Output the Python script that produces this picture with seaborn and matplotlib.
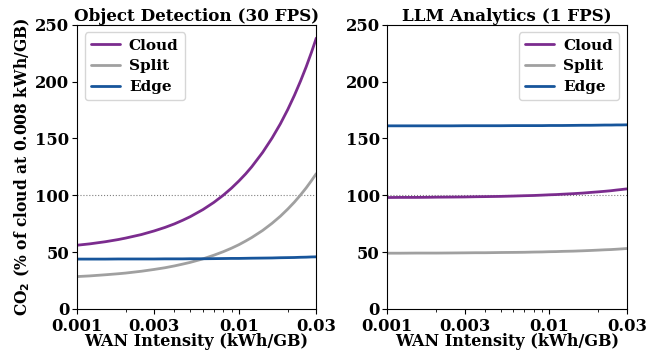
import numpy as np
import pandas as pd
import matplotlib
matplotlib.use("Agg")
import matplotlib.pyplot as plt
import seaborn as sns

# WAN intensity sample points (kWh/GB)
wan = [0.001, 0.0012, 0.0015, 0.0018, 0.002, 0.0025, 0.003, 0.0035, 0.004,
       0.0045, 0.005, 0.006, 0.007, 0.008, 0.009, 0.01, 0.011, 0.012,
       0.014, 0.016, 0.018, 0.02, 0.022, 0.024, 0.026, 0.028, 0.03]

# Object Detection (30 FPS), % of cloud CO2 at 0.008 kWh/GB
od_cloud = [56.0, 57.2, 59.1, 61.0, 62.3, 65.4, 68.6, 71.7, 74.8,
            78.0, 81.1, 87.4, 93.7, 100.0, 106.3, 112.6, 118.8, 125.1,
            137.7, 150.3, 162.8, 175.4, 188.0, 200.6, 213.1, 225.7, 238.3]
od_split = [28.4, 29.0, 30.0, 30.9, 31.5, 33.1, 34.7, 36.2, 37.8,
            39.4, 40.9, 44.0, 47.2, 50.3, 53.4, 56.5, 59.7, 62.8,
            69.0, 75.3, 81.5, 87.8, 94.0, 100.3, 106.5, 112.8, 119.0]
od_edge = [43.8, 43.8, 43.8, 43.9, 43.9, 43.9, 43.9, 44.0, 44.0,
           44.0, 44.1, 44.1, 44.2, 44.3, 44.4, 44.4, 44.5, 44.6,
           44.7, 44.8, 45.0, 45.1, 45.2, 45.4, 45.5, 45.7, 45.8]

# LLM Analytics (1 FPS)
llm_cloud = [98.0, 98.1, 98.1, 98.2, 98.3, 98.4, 98.5, 98.7, 98.8,
             98.9, 99.0, 99.3, 99.6, 99.8, 100.1, 100.4, 100.6, 100.9,
             101.4, 101.9, 102.5, 103.0, 103.5, 104.0, 104.6, 105.1, 105.6]
llm_split = [49.0, 49.0, 49.1, 49.1, 49.1, 49.2, 49.3, 49.4, 49.4,
             49.5, 49.6, 49.7, 49.8, 50.0, 50.1, 50.3, 50.4, 50.6,
             50.8, 51.1, 51.4, 51.7, 52.0, 52.2, 52.5, 52.8, 53.1]
llm_edge = [161.1, 161.1, 161.1, 161.1, 161.1, 161.1, 161.2, 161.2, 161.2,
            161.2, 161.2, 161.3, 161.3, 161.3, 161.3, 161.4, 161.4, 161.4,
            161.5, 161.6, 161.6, 161.7, 161.8, 161.8, 161.9, 161.9, 162.0]

configs = ["Cloud", "Split", "Edge"]
palette = {"Cloud": "#7b2c8e", "Split": "#a0a0a0", "Edge": "#17559b"}
xticks = [0.001, 0.003, 0.01, 0.03]
xticklabels = ["0.001", "0.003", "0.01", "0.03"]


def to_long(cloud, split, edge):
    frames = []
    for name, vals in zip(configs, [cloud, split, edge]):
        frames.append(pd.DataFrame({"wan": wan, "co2": vals, "config": name}))
    return pd.concat(frames, ignore_index=True)


sns.set_style("ticks")
plt.rcParams["font.family"] = ["DejaVu Serif"]
plt.rcParams["font.weight"] = "bold"
plt.rcParams["axes.labelweight"] = "bold"
plt.rcParams["axes.titleweight"] = "bold"
plt.rcParams["mathtext.default"] = "bf"
for key in ["text.color", "axes.labelcolor", "xtick.color", "ytick.color", "axes.edgecolor"]:
    plt.rcParams[key] = "black"
plt.rcParams["xtick.minor.size"] = 2
plt.rcParams["xtick.minor.width"] = 0.6
plt.rcParams["xtick.major.size"] = 3.5
plt.rcParams["ytick.major.size"] = 3.5

fig, axes = plt.subplots(1, 2, figsize=(6.57, 3.55), dpi=100)
fig.subplots_adjust(left=0.117, right=0.954, top=0.930, bottom=0.130, wspace=0.297)

panels = [
    ("Object Detection (30 FPS)", to_long(od_cloud, od_split, od_edge), "upper left"),
    ("LLM Analytics (1 FPS)", to_long(llm_cloud, llm_split, llm_edge), "upper right"),
]

for ax, (title, df, loc) in zip(axes, panels):
    sns.lineplot(data=df, x="wan", y="co2", hue="config", hue_order=configs,
                 palette=palette, linewidth=2, ax=ax)
    ax.axhline(100, color="gray", linestyle=":", linewidth=0.8, zorder=0)
    ax.set_xscale("log")
    ax.set_xlim(0.001, 0.03)
    ax.set_ylim(0, 250)
    ax.set_xticks(xticks)
    ax.set_xticklabels(xticklabels)
    ax.set_yticks([0, 50, 100, 150, 200, 250])
    ax.tick_params(axis="y", labelsize=11.8, pad=2)
    ax.tick_params(axis="x", labelsize=11.8, pad=3)
    for lab in ax.get_xticklabels() + ax.get_yticklabels():
        lab.set_fontweight("bold")
    ax.set_title(title, fontsize=12.1, fontweight="bold", pad=3)
    ax.set_xlabel("WAN Intensity (kWh/GB)", fontsize=11.5, fontweight="bold", labelpad=-1)
    ax.set_ylabel("")
    leg = ax.legend(loc=loc, fontsize=11, handlelength=1.9, handletextpad=0.6,
                    borderpad=0.4, labelspacing=0.45)
    for t in leg.get_texts():
        t.set_fontweight("bold")

axes[0].set_ylabel(r"CO$_2$ (% of cloud at 0.008 kWh/GB)", fontsize=11.2,
                   fontweight="bold", labelpad=2)

fig.savefig("out.png", dpi=100)
